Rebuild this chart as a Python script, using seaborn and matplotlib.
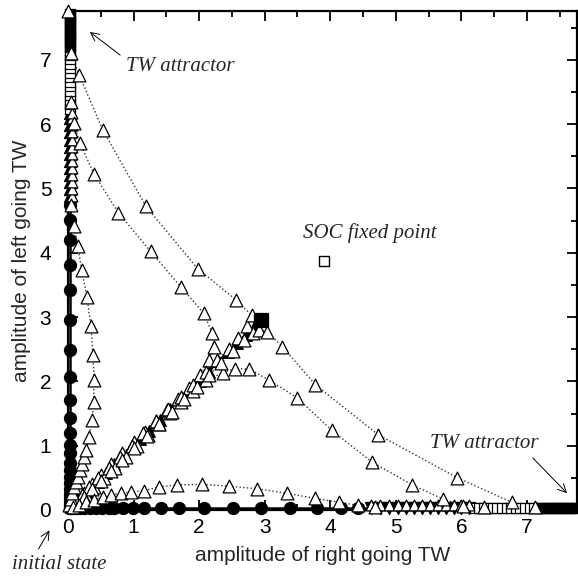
import matplotlib
matplotlib.use("Agg")
import matplotlib.pyplot as plt
from matplotlib.ticker import MultipleLocator
import seaborn as sns

sns.set_style("ticks")
plt.rcParams["font.family"] = ["Liberation Sans", "DejaVu Sans"]

# --- trajectories along the axes (filled circles -> triangles -> squares) ---
rx_circ = [0.03, 0.06, 0.10, 0.14, 0.19, 0.25, 0.33, 0.42, 0.52, 0.62, 0.70, 0.84, 0.99,
           1.16, 1.42, 1.69, 2.07, 2.51, 2.94, 3.38, 3.80, 4.16, 4.43]
rx_tri = [4.62, 4.76, 4.90, 5.03, 5.16, 5.28, 5.40, 5.52, 5.64, 5.76, 5.88, 6.00, 6.12]
rx_sq = [6.20, 6.27, 6.34, 6.41, 6.48, 6.55, 6.62, 6.69, 6.76, 6.83, 6.90, 6.97, 7.04, 7.11, 7.18]
rx_blk = [7.22, 7.26, 7.30, 7.34, 7.38, 7.42, 7.46, 7.50, 7.54, 7.58, 7.62, 7.66, 7.70, 7.74]

ly_circ = [0.03, 0.06, 0.10, 0.14, 0.19, 0.25, 0.33, 0.42, 0.52, 0.62, 0.73, 0.89, 1.01,
           1.20, 1.43, 1.71, 2.07, 2.49, 2.95, 3.42, 3.81, 4.20, 4.51, 4.74]
ly_tri = [4.88, 4.99, 5.10, 5.21, 5.32, 5.43, 5.54, 5.65, 5.76, 5.87, 5.98, 6.09, 6.18]
ly_sq = [6.24, 6.31, 6.38, 6.45, 6.52, 6.59, 6.66, 6.73, 6.80, 6.87, 6.94, 7.01, 7.08, 7.14]
ly_blk = [7.20, 7.24, 7.28, 7.32, 7.36, 7.40, 7.44, 7.48, 7.52, 7.56, 7.60, 7.64, 7.68, 7.72]
axis_off = 0.03

# --- diagonal trajectory (filled triangles) ---
d_x = [0.04, 0.09, 0.15, 0.22, 0.30, 0.38, 0.46, 0.58, 0.70, 0.84, 0.97, 1.10, 1.24, 1.40,
       1.56, 1.72, 1.87, 2.01, 2.15, 2.29, 2.44, 2.58, 2.71, 2.83]
d_y = [0.04, 0.09, 0.15, 0.21, 0.29, 0.37, 0.44, 0.58, 0.72, 0.85, 0.98, 1.10, 1.23, 1.40,
       1.57, 1.73, 1.87, 2.00, 2.15, 2.31, 2.45, 2.60, 2.72, 2.84]
fix_x, fix_y = [2.95], [2.95]
soc_x, soc_y = [3.90], [3.87]

# --- open triangle trajectories (dotted) ---
i_x = [0.06, 0.14, 0.24, 0.36, 0.50, 0.66, 0.83, 1.00, 1.17, 1.34, 1.51, 1.68, 1.85, 2.02,
       2.15, 2.22, 2.20, 2.07, 1.72, 1.26, 0.77, 0.40, 0.18, 0.09, 0.05]
i_y = [0.07, 0.16, 0.27, 0.40, 0.55, 0.71, 0.88, 1.05, 1.22, 1.39, 1.56, 1.73, 1.90, 2.10,
       2.33, 2.54, 2.75, 3.06, 3.47, 4.02, 4.62, 5.22, 5.71, 6.02, 6.35]
m_x = [0.07, 0.16, 0.27, 0.40, 0.55, 0.71, 0.88, 1.05, 1.22, 1.39, 1.56, 1.73, 1.90, 2.10,
       2.36, 2.54, 2.76, 3.07, 3.50, 4.02, 4.63, 5.25, 5.72, 6.03, 6.35]
m_y = [0.06, 0.14, 0.24, 0.36, 0.50, 0.66, 0.83, 1.00, 1.17, 1.34, 1.51, 1.68, 1.85, 2.02,
       2.13, 2.20, 2.19, 2.02, 1.74, 1.24, 0.75, 0.39, 0.17, 0.06, 0.04]
u_x = [0.05, 0.12, 0.21, 0.32, 0.46, 0.62, 0.79, 0.97, 1.15, 1.34, 1.53, 1.72, 1.91, 2.10,
       2.28, 2.45, 2.60, 2.73, 2.80, 2.56, 1.98, 1.19, 0.53, 0.17, 0.04, 0.00]
u_y = [0.06, 0.13, 0.23, 0.35, 0.49, 0.65, 0.82, 1.00, 1.19, 1.38, 1.57, 1.76, 1.95, 2.14,
       2.33, 2.51, 2.68, 2.86, 3.03, 3.27, 3.75, 4.72, 5.91, 6.77, 7.10, 7.76]
v_x = [0.07, 0.14, 0.24, 0.36, 0.50, 0.66, 0.83, 1.01, 1.20, 1.39, 1.58, 1.77, 1.96, 2.15,
       2.34, 2.52, 2.69, 2.82, 2.91, 3.04, 3.27, 3.77, 4.73, 5.94, 6.77, 7.12]
v_y = [0.05, 0.11, 0.20, 0.32, 0.45, 0.61, 0.78, 0.96, 1.15, 1.34, 1.53, 1.72, 1.91, 2.10,
       2.29, 2.47, 2.64, 2.75, 2.80, 2.77, 2.54, 1.95, 1.17, 0.50, 0.12, 0.05]
a_x = [0.02, 0.04, 0.06, 0.09, 0.12, 0.15, 0.18, 0.21, 0.24, 0.28, 0.32, 0.37, 0.39, 0.40,
       0.38, 0.35, 0.29, 0.21, 0.15, 0.09, 0.05]
a_y = [0.08, 0.17, 0.26, 0.35, 0.43, 0.52, 0.62, 0.72, 0.82, 0.94, 1.14, 1.40, 1.68, 2.02,
       2.41, 2.86, 3.31, 3.73, 4.10, 4.42, 4.75]
l_x = [0.08, 0.17, 0.27, 0.40, 0.53, 0.65, 0.81, 0.96, 1.16, 1.39, 1.67, 2.04, 2.45, 2.89,
       3.34, 3.77, 4.14, 4.43, 4.68]
l_y = [0.04, 0.08, 0.12, 0.16, 0.20, 0.23, 0.26, 0.28, 0.30, 0.36, 0.39, 0.40, 0.37, 0.33,
       0.26, 0.18, 0.12, 0.07, 0.04]


def trace(ax, xs, ys, ls="-", lw=1.8, color="black", z=2):
    sns.lineplot(x=xs, y=ys, sort=False, estimator=None, ax=ax, color=color,
                 linestyle=ls, linewidth=lw, legend=False, zorder=z)


def dots(ax, xs, ys, marker, s, face, lw=0.9, z=3):
    sns.scatterplot(x=xs, y=ys, marker=marker, s=s, color=face, edgecolor="black",
                    linewidth=lw, ax=ax, zorder=z, clip_on=False, legend=False)


fig, ax = plt.subplots(figsize=(5.78, 5.76), dpi=100)
fig.subplots_adjust(left=0.1176, right=0.998, bottom=0.1146, top=0.981)

# axis trajectories
rx_all = rx_circ + rx_tri + rx_sq + rx_blk
trace(ax, rx_all, [axis_off] * len(rx_all))
ly_all = ly_circ + ly_tri + ly_sq + ly_blk
trace(ax, [axis_off] * len(ly_all), ly_all)
dots(ax, rx_circ, [axis_off] * len(rx_circ), "o", 75, "black", z=4)
dots(ax, [axis_off] * len(ly_circ), ly_circ, "o", 75, "black", z=4)
dots(ax, rx_tri, [axis_off] * len(rx_tri), "v", 75, "black", z=4)
dots(ax, [axis_off] * len(ly_tri), ly_tri, "^", 75, "black", z=4)
dots(ax, rx_tri, [axis_off + 0.04] * len(rx_tri), "^", 60, "white", z=5)
dots(ax, [axis_off + 0.03] * len(ly_tri), ly_tri, "^", 60, "white", z=5)
dots(ax, rx_sq, [axis_off] * len(rx_sq), "s", 45, "white", z=4)
dots(ax, [axis_off] * len(ly_sq), ly_sq, "s", 45, "white", z=4)
dots(ax, rx_blk, [axis_off] * len(rx_blk), "s", 45, "black", z=4)
dots(ax, [axis_off] * len(ly_blk), ly_blk, "s", 45, "black", z=4)

# diagonal
trace(ax, d_x + fix_x, d_y + fix_y, lw=1.6)
dots(ax, d_x, d_y, "^", 70, "black", z=4)
dots(ax, fix_x, fix_y, "s", 90, "black", z=6)

# open triangle trajectories
for xs, ys in [(i_x, i_y), (m_x, m_y), (u_x, u_y), (v_x, v_y), (a_x, a_y), (l_x, l_y)]:
    trace(ax, xs, ys, ls=":", lw=1.0, color="0.2", z=3)
    dots(ax, xs, ys, "^", 85, "white", z=5)

dots(ax, soc_x, soc_y, "s", 55, "white", lw=1.0, z=6)

ax.set_xlim(0, 7.76)
ax.set_ylim(0, 7.76)
ax.xaxis.set_major_locator(MultipleLocator(1))
ax.yaxis.set_major_locator(MultipleLocator(1))
ax.xaxis.set_minor_locator(MultipleLocator(0.5))
ax.yaxis.set_minor_locator(MultipleLocator(0.5))
ax.tick_params(which="both", direction="in", top=True, right=True, width=1.3,
               labelsize=15, colors="black")
ax.tick_params(which="major", length=7)
ax.tick_params(which="minor", length=4)
ax.tick_params(axis="x", which="major", pad=6)
ax.tick_params(axis="y", which="major", pad=12)
for sp in ax.spines.values():
    sp.set_visible(True)
    sp.set_linewidth(1.6)
    sp.set_color("black")

ax.set_xlabel("amplitude of right going TW", fontsize=15, labelpad=6)
ax.set_ylabel("amplitude of left going TW", fontsize=15, labelpad=6)

serif = dict(family=["Liberation Serif", "DejaVu Serif"], style="italic", fontsize=15)
arrow = dict(arrowstyle="->", color="black", lw=0.7)
ax.annotate("TW attractor", xy=(0.30, 7.46), xytext=(0.88, 6.89), va="center", ha="left",
            arrowprops=dict(arrow, relpos=(0.0, 0.9)), **serif)
ax.annotate("TW attractor", xy=(7.64, 0.23), xytext=(5.52, 1.04), va="center", ha="left",
            arrowprops=dict(arrow, relpos=(0.9, 0.0)), **serif)
ax.text(3.58, 4.31, "SOC fixed point", va="center", ha="left", **serif)
ax.annotate("initial state", xy=(-0.26, -0.28), xytext=(-0.86, -0.84), va="center",
            ha="left", annotation_clip=False,
            arrowprops=dict(arrow, relpos=(0.25, 1.0)), **serif)

fig.savefig("out.png", dpi=100)
